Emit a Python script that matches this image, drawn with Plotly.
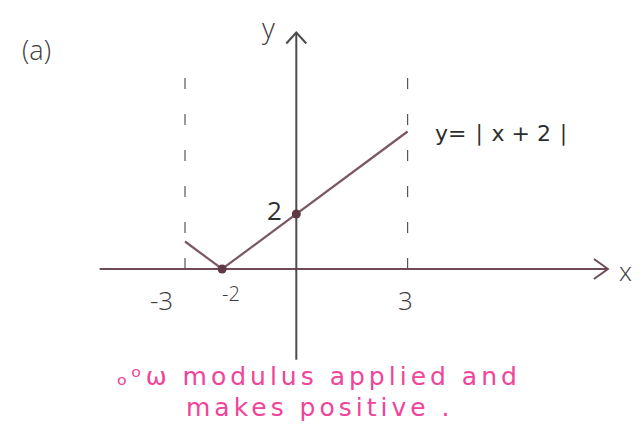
import plotly.graph_objects as go

# Sketch of y = |x + 2| on the interval [-3, 3]
curve_x = [-3, -2, 3]
curve_y = [abs(v + 2) for v in curve_x]

# Marked points: the vertex and the y-intercept
point_x = [-2, 0]
point_y = [abs(v + 2) for v in point_x]

# Interval bounds shown as dashed verticals
bound_x = [-3, 3]
bound_top = 7

# Tick labels written under / beside the axes
xtick_vals = [-3, -2, 3]
xtick_text = ["-3", "-2", "3"]
ytick_vals = [2]
ytick_text = ["2"]

# Extent of the drawn axes (data units)
x_axis_span = (-5.3, 8.4)
y_axis_span = (-3.3, 8.6)

W, H = 644, 427
# data -> pixel scale of the sketch
sx, sy = 37.1, 27.5
x0_px, y0_px = 296.3, 269.0
x_range = [-x0_px / sx, (W - x0_px) / sx]
y_range = [(y0_px - H) / sy, y0_px / sy]

ink = "#6e4b57"
dark = "#4d4a4c"
pink = "#f0449a"
hand = "Open Sans"
wide = "DejaVu Sans"

fig = go.Figure()

# x-axis with open chevron arrowhead
ax_dx, ax_dy = 14 / sx, 10 / sy
fig.add_trace(go.Scatter(
    x=[x_axis_span[0], x_axis_span[1], None,
       x_axis_span[1] - ax_dx, x_axis_span[1], x_axis_span[1] - ax_dx],
    y=[0, 0, None, ax_dy, 0, -ax_dy],
    mode="lines", line=dict(color=ink, width=2), hoverinfo="skip"))

# y-axis with open chevron arrowhead
ay_dx, ay_dy = 10 / sx, 11 / sy
fig.add_trace(go.Scatter(
    x=[0, 0, None, -ay_dx, 0, ay_dx],
    y=[y_axis_span[0], y_axis_span[1], None,
       y_axis_span[1] - ay_dy, y_axis_span[1], y_axis_span[1] - ay_dy],
    mode="lines", line=dict(color=dark, width=2), hoverinfo="skip"))

# dashed interval bounds
for bx in bound_x:
    fig.add_trace(go.Scatter(
        x=[bx, bx], y=[0, bound_top], mode="lines",
        line=dict(color="#555555", width=1.2, dash="11px,25px"),
        hoverinfo="skip"))

# the graph of y = |x + 2|
fig.add_trace(go.Scatter(
    x=curve_x, y=curve_y, mode="lines",
    line=dict(color="#7b5862", width=2.2), hoverinfo="skip"))

# key points
fig.add_trace(go.Scatter(
    x=point_x, y=point_y, mode="markers",
    marker=dict(color="#5e3b44", size=9), hoverinfo="skip"))

annotations = []
# x tick labels
label_font = {"-3": 26, "-2": 20, "3": 26}
label_dy = {"-3": -31, "-2": -24, "3": -31}
label_dx = {"-3": -24, "-2": 9, "3": -2}
for v, t in zip(xtick_vals, xtick_text):
    annotations.append(dict(
        x=v, y=0, text=t, showarrow=False, xshift=label_dx[t], yshift=label_dy[t],
        font=dict(family=hand, size=label_font[t], color="#3c3c3c", weight=300)))
# y tick label
for v, t in zip(ytick_vals, ytick_text):
    annotations.append(dict(
        x=0, y=v, text=t, showarrow=False, xshift=-22, yshift=4,
        font=dict(family=hand, size=26, color="#2e2e2e", weight=400)))

# axis names
annotations.append(dict(x=x_axis_span[1], y=0, text="x", showarrow=False,
                        xshift=18, yshift=-2,
                        font=dict(family=hand, size=26, color="#3c3c3c", weight=300)))
annotations.append(dict(x=0, y=y_axis_span[1], text="y", showarrow=False,
                        xshift=-28, yshift=6,
                        font=dict(family=hand, size=28, color="#3c3c3c", weight=300)))

# curve label
annotations.append(dict(x=curve_x[-1], y=curve_y[-1], text="y= ∣ x + 2 ∣",
                        showarrow=False, xanchor="left", xshift=25, yshift=-2,
                        font=dict(family=wide, size=22, color="#2e2e2e")))

# part label
annotations.append(dict(x=0.057, y=0.885, xref="paper", yref="paper",
                        xanchor="center", yanchor="middle",
                        text="(a)", showarrow=False,
                        font=dict(family=hand, size=27, color="#3c3c3c", weight=300)))

# marking note (hand-written, widely spaced letters)
spaced = "<span style='letter-spacing:4px'>{}</span>"
annotations.append(dict(x=0.495, y=0.118, xref="paper", yref="paper",
                        xanchor="center", yanchor="middle",
                        text=spaced.format("ₒᵒω modulus applied and"), showarrow=False,
                        font=dict(family=wide, size=25, color=pink)))
annotations.append(dict(x=0.497, y=0.045, xref="paper", yref="paper",
                        xanchor="center", yanchor="middle",
                        text=spaced.format("makes positive ."), showarrow=False,
                        font=dict(family=wide, size=25, color=pink)))

fig.update_layout(
    width=W, height=H,
    margin=dict(l=0, r=0, t=0, b=0),
    paper_bgcolor="white", plot_bgcolor="white",
    showlegend=False,
    xaxis=dict(range=x_range, visible=False, fixedrange=True),
    yaxis=dict(range=y_range, visible=False, fixedrange=True),
    annotations=annotations,
)

fig.write_html("out.html")
